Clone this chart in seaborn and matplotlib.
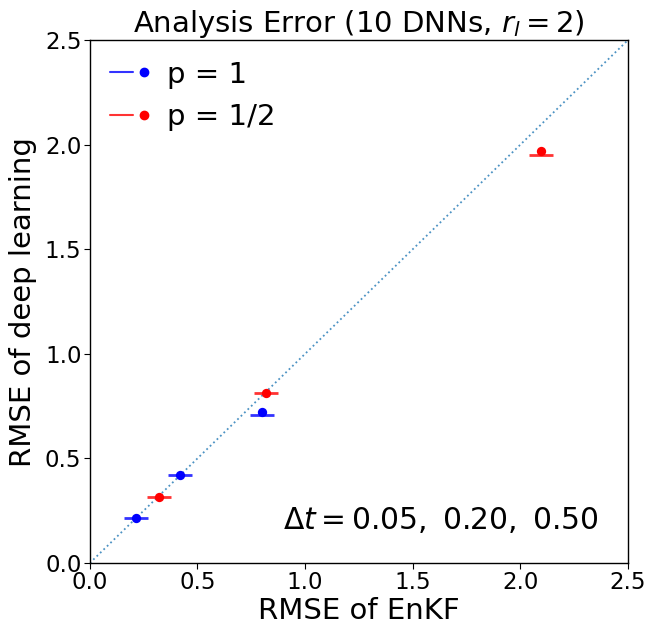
import numpy as np
import pandas as pd
import matplotlib
matplotlib.use("Agg")
import matplotlib.pyplot as plt
import seaborn as sns
from matplotlib.legend_handler import HandlerTuple
from matplotlib.lines import Line2D

sns.set_style("ticks")
plt.rcParams['font.family'] = ['DejaVu Sans']
plt.rcParams['mathtext.fontset'] = 'dejavusans'
plt.rcParams['text.color'] = 'black'
plt.rcParams['axes.labelcolor'] = 'black'
plt.rcParams['xtick.color'] = 'black'
plt.rcParams['ytick.color'] = 'black'

# data
dt_labels = ["0.05", "0.20", "0.50"]
enkf_p1 = [0.214, 0.420, 0.801]
dl_mean_p1 = [0.215, 0.421, 0.720]
dl_line_p1 = [0.215, 0.421, 0.707]
enkf_p12 = [0.321, 0.818, 2.096]
dl_mean_p12 = [0.317, 0.811, 1.971]
dl_line_p12 = [0.317, 0.811, 1.950]
diag = [0.0, 2.5]

fig = plt.figure(figsize=(6.46, 6.27), dpi=100)
ax = fig.add_axes([0.139, 0.102, 0.833, 0.834])

sns.lineplot(x=diag, y=diag, ax=ax, linestyle=':', color='#1f77b4', linewidth=1.3, alpha=0.8)

sns.scatterplot(x=enkf_p1, y=dl_line_p1, ax=ax, marker='_', s=300, color='blue', linewidth=2, alpha=0.8, zorder=3)
sns.scatterplot(x=enkf_p1, y=dl_mean_p1, ax=ax, marker='o', s=45, color='blue', edgecolor='blue', linewidth=0, zorder=4)
sns.scatterplot(x=enkf_p12, y=dl_line_p12, ax=ax, marker='_', s=300, color='red', linewidth=2, alpha=0.8, zorder=3)
sns.scatterplot(x=enkf_p12, y=dl_mean_p12, ax=ax, marker='o', s=45, color='red', edgecolor='red', linewidth=0, zorder=4)

ax.set_xlim(0, 2.5)
ax.set_ylim(0, 2.5)
ticks = [0.0, 0.5, 1.0, 1.5, 2.0, 2.5]
ax.set_xticks(ticks)
ax.set_yticks(ticks)
ax.set_xticklabels([f"{t:.1f}" for t in ticks])
ax.set_yticklabels([f"{t:.1f}" for t in ticks])
ax.tick_params(labelsize=16.5, direction='out', length=4, color='black', pad=2)
for s in ax.spines.values():
    s.set_visible(True)
    s.set_color('black')
    s.set_linewidth(1)

ax.set_xlabel("RMSE of EnKF", fontsize=21, labelpad=2)
ax.set_ylabel("RMSE of deep learning", fontsize=21, labelpad=6)
ax.set_title(r"Analysis Error (10 DNNs, $r_l = 2$)", fontsize=21, pad=5)

ax.text(0.945, 0.082, r"$\Delta t = " + r",\ ".join(dt_labels) + r"$", transform=ax.transAxes,
        ha='right', va='center', fontsize=21.4)

h1 = (Line2D([0], [0], color='blue', lw=1.5, alpha=0.8),
      Line2D([0], [0], marker='o', color='blue', ls='none', markersize=6))
h2 = (Line2D([0], [0], color='red', lw=1.5, alpha=0.8),
      Line2D([0], [0], marker='o', color='red', ls='none', markersize=6))
ax.legend([h1, h2], ["p = 1", "p = 1/2"], handler_map={tuple: HandlerTuple(ndivide=None, pad=0.0)},
          loc='upper left', frameon=False, fontsize=21, handlelength=1.55, handletextpad=0.4,
          borderaxespad=0.3, labelspacing=0.5)

fig.savefig("out.png", dpi=100)
